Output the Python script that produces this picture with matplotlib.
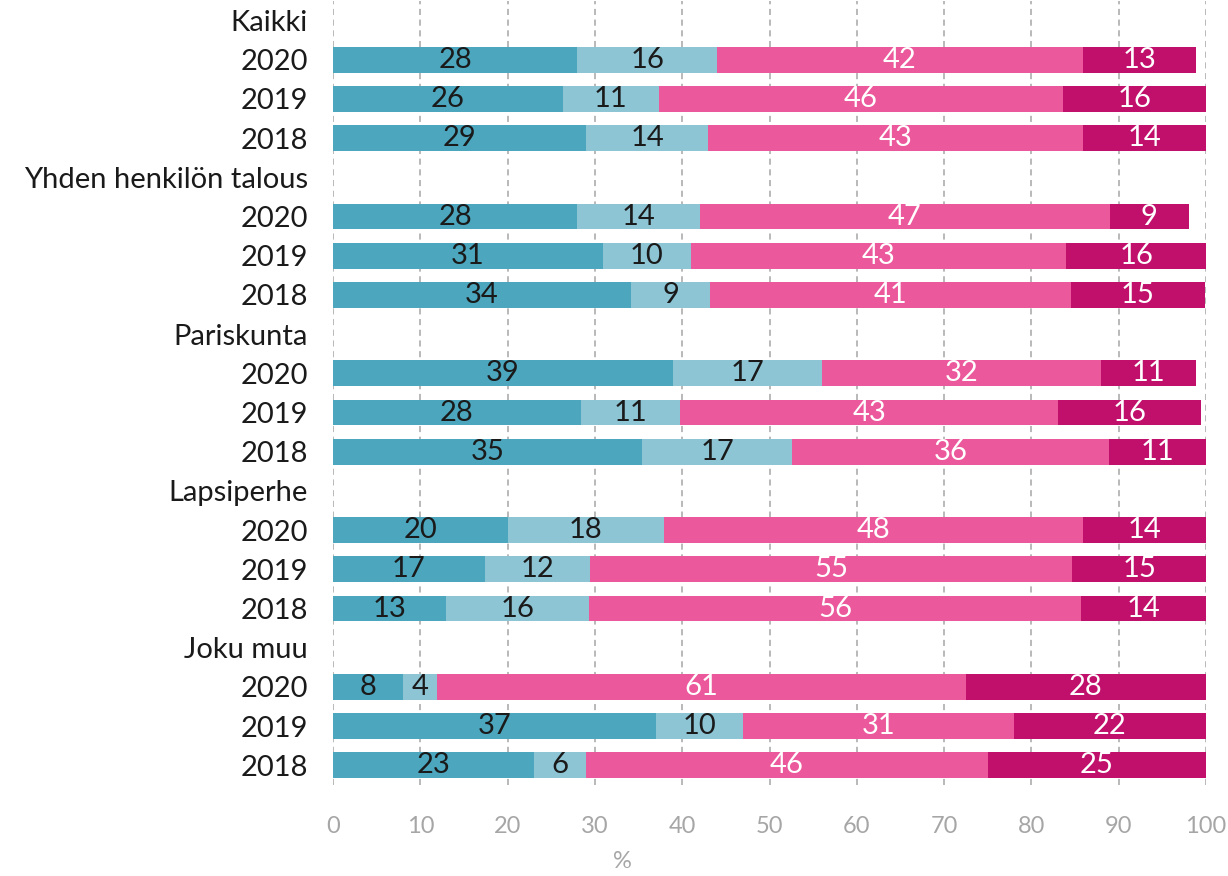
import matplotlib.pyplot as plt
import numpy as np

plt.rcParams['font.family'] = ['Lato', 'DejaVu Sans']

groups = ['Kaikki', 'Yhden henkilön talous', 'Pariskunta', 'Lapsiperhe', 'Joku muu']
years = ['2020', '2019', '2018']

# share per group, year order 2020, 2019, 2018
seg1 = [28.0, 26.3, 29.0,
        28.0, 30.9, 34.1,
        38.9, 28.4, 35.4,
        20.0, 17.4, 12.9,
        8.0, 37.0, 23.0]
seg2 = [16.0, 11.0, 14.0,
        14.0, 10.1, 9.1,
        17.1, 11.4, 17.2,
        17.9, 12.0, 16.4,
        3.9, 10.0, 6.0]
seg3 = [41.9, 46.3, 42.9,
        47.0, 43.0, 41.3,
        32.0, 43.3, 36.3,
        48.0, 55.3, 56.4,
        60.6, 31.0, 46.0]
seg4 = [12.9, 16.4, 14.1,
        9.0, 16.0, 15.4,
        10.9, 16.3, 11.1,
        14.1, 15.3, 14.3,
        27.5, 22.0, 25.0]

colors = ['#4BA6BE', '#8DC5D5', '#EC589C', '#C1106C']
text_colors = ['#1a1a1a', '#1a1a1a', 'white', 'white']

# build row positions: one header row per group then its years
labels, bar_rows = [], []
row = 0
for g in groups:
    labels.append(g)
    row += 1
    for y in years:
        labels.append(y)
        bar_rows.append(row)
        row += 1
bar_rows = np.array(bar_rows)

fig = plt.figure(figsize=(12.28, 8.76), dpi=100)
ax = fig.add_axes([0.2712, 0.1039, 0.7109, 0.8951])

left = np.zeros(len(seg1))
for vals, c, tc in zip([seg1, seg2, seg3, seg4], colors, text_colors):
    vals = np.array(vals)
    ax.barh(bar_rows, vals, left=left, height=0.66, color=c, zorder=2)
    for r, l, v in zip(bar_rows, left, vals):
        ax.text(l + v / 2, r, f'{v:.0f}', ha='center', va='center',
                color=tc, fontsize=21, zorder=3)
    left += vals

ax.set_ylim(len(labels) - 0.5, -0.5)
ax.set_yticks(range(len(labels)))
ax.set_yticklabels(labels, fontsize=21, color='#1a1a1a')
ax.tick_params(axis='y', length=0, pad=18)

ax.set_xlim(0, 100)
ax.set_xticks(range(0, 101, 10))
ax.tick_params(axis='x', length=0, pad=22, labelsize=17, labelcolor='#A6A6A6')
fig.text(0.5065, 0.016, '%', fontsize=17, color='#A6A6A6', ha='center', va='center')

ax.grid(axis='x', color='#A6A6A6', linestyle=(0, (4, 3)), linewidth=1.1, zorder=1)
for s in ax.spines.values():
    s.set_visible(False)

plt.savefig('out.png', dpi=100)
